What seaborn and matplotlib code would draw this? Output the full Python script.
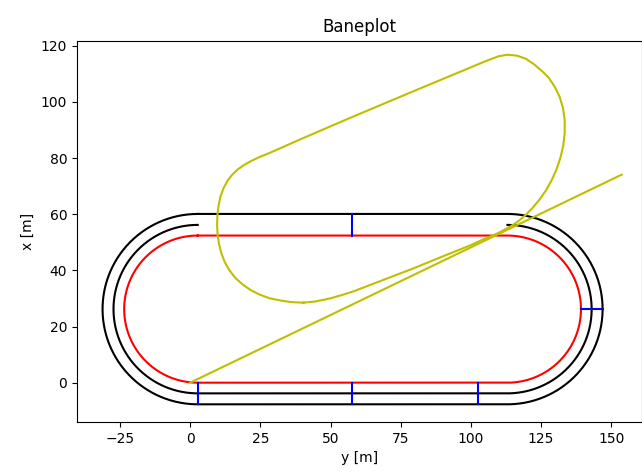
import numpy as np
import matplotlib
matplotlib.use("Agg")
import matplotlib.pyplot as plt
import seaborn as sns

# ---- Track geometry (metres) ----
curve_centre_y = 26.2
curve_centre_x = [2.7, 113.0]      # left / right bend centres
inner_radius = 26.2                # red measuring line
mid_radius = 30.0                  # lane divider
outer_radius = 33.9                # outer edge

# Timing marks
marker_bottom_x = [2.7, 57.8, 102.7]
marker_top_x = [57.8]
marker_side_y = [26.2]

# ---- Trajectory (metres) ----
loop_x = [40.3, 44.5, 49.8, 54.0, 58.1, 68.0, 79.5, 91.0, 100.0, 103.0,
          106.5, 109.5, 112.0, 114.5, 117.0, 119.5, 122.0, 124.5, 126.8, 128.8,
          130.5, 131.9, 132.9, 133.4, 133.4, 132.8, 131.6, 129.9, 127.8, 125.3,
          122.5, 119.5, 116.3, 113.0, 110.0, 107.0, 104.0, 80.0, 56.0, 40.0,
          28.0, 25.0, 22.0, 19.3, 17.0, 15.0, 13.3, 11.9, 10.8, 10.1,
          9.7, 9.6, 9.8, 10.3, 11.1, 12.3, 14.0, 16.2, 18.7, 21.5,
          24.7, 28.2, 32.0, 36.0, 40.3]
loop_y = [28.5, 28.9, 30.0, 31.2, 32.5, 36.3, 40.7, 45.4, 49.0, 50.4,
          51.9, 53.2, 54.5, 55.9, 57.6, 59.7, 62.3, 65.3, 68.6, 72.2,
          76.0, 80.2, 84.5, 89.0, 93.5, 97.8, 101.8, 105.3, 108.5, 111.0,
          113.4, 115.4, 116.5, 116.8, 116.3, 115.2, 114.0, 104.0, 93.9, 87.0,
          81.7, 80.5, 79.1, 77.6, 76.0, 74.1, 71.9, 69.3, 66.3, 63.0,
          59.5, 56.0, 52.5, 49.3, 46.2, 43.0, 40.0, 37.2, 35.0, 33.0,
          31.4, 30.1, 29.3, 28.7, 28.5]
line_x = [0.0, 153.7]
line_y = [0.0, 74.1]


def track_line(radius, closed=True, n=120):
    """Two semicircular bends joined by straights."""
    left = np.linspace(np.pi / 2, 3 * np.pi / 2, n)
    right = np.linspace(-np.pi / 2, np.pi / 2, n)
    xs = np.concatenate([curve_centre_x[0] + radius * np.cos(left),
                         curve_centre_x[1] + radius * np.cos(right)])
    ys = np.concatenate([curve_centre_y + radius * np.sin(left),
                         curve_centre_y + radius * np.sin(right)])
    if closed:
        xs = np.append(xs, xs[0])
        ys = np.append(ys, ys[0])
    return xs, ys


W, H = 642, 472
fig = plt.figure(figsize=(W / 100, H / 100), dpi=100)
ax = fig.add_axes([77 / W, (H - 422) / H, (641.5 - 77) / W, (422 - 40.7) / H])

def draw(xs, ys, color):
    sns.lineplot(x=xs, y=ys, sort=False, estimator=None, color=color,
                 linewidth=1.5, ax=ax)

xo, yo = track_line(outer_radius)
draw(xo, yo, "k")
xm, ym = track_line(mid_radius, closed=False)
draw(xm, ym, "k")
xi, yi = track_line(inner_radius)
draw(xi, yi, "r")

bottom_inner = curve_centre_y - inner_radius
bottom_outer = curve_centre_y - outer_radius
top_inner = curve_centre_y + inner_radius
top_outer = curve_centre_y + outer_radius
for mx in marker_bottom_x:
    draw([mx, mx], [bottom_inner, bottom_outer], "b")
for mx in marker_top_x:
    draw([mx, mx], [top_inner, top_outer], "b")
for my in marker_side_y:
    draw([curve_centre_x[1] + inner_radius, curve_centre_x[1] + outer_radius],
         [my, my], "b")

draw(loop_x, loop_y, "y")
draw(line_x, line_y, "y")

ax.set_xlim(-40.3, (641.5 - 190) / 2.8086)
ax.set_ylim(-14.0, 121.8)
ax.set_xticks([-25, 0, 25, 50, 75, 100, 125, 150])
ax.set_yticks([0, 20, 40, 60, 80, 100, 120])
ax.set_title("Baneplot")
ax.set_xlabel("y [m]")
ax.set_ylabel("x [m]")

fig.savefig("out.png", dpi=100)
